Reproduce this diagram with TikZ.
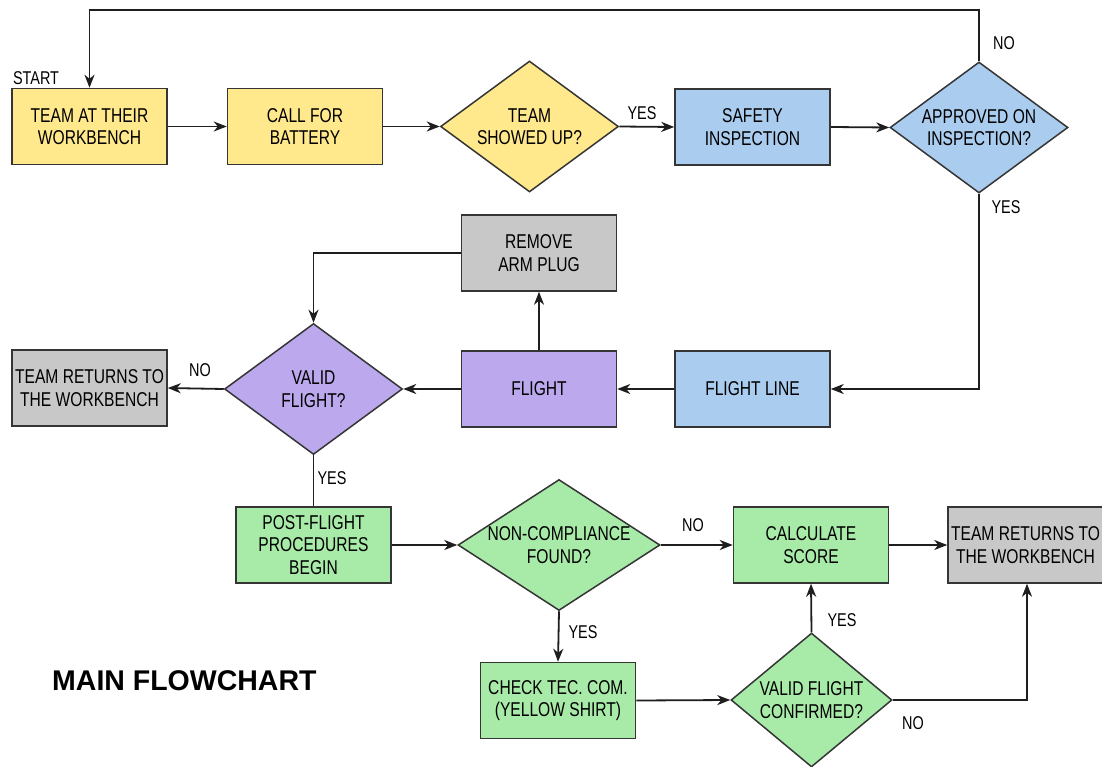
\documentclass[tikz,border=0pt]{standalone}
\usepackage{fontspec}
\setmainfont[FakeStretch=0.78]{Liberation Sans}
\newfontfamily\titlefont{Liberation Sans}
\usetikzlibrary{shapes.geometric,arrows.meta,calc}
\definecolor{cyel}{RGB}{255,233,140}
\definecolor{cblu}{RGB}{170,204,239}
\definecolor{cpur}{RGB}{188,168,236}
\definecolor{cgry}{RGB}{200,200,200}
\definecolor{cgrn}{RGB}{168,235,168}
\definecolor{cline}{RGB}{30,30,30}
\begin{document}
\begin{tikzpicture}[x=1pt,y=-1pt,
  box/.style={draw=cline!90, line width=1.5pt, minimum width=155pt, minimum height=76pt, inner sep=0pt, align=center, font=\fontsize{20}{22.5}\selectfont},
  dia/.style={draw=cline!90, line width=1.5pt, diamond, inner sep=0pt, minimum width=178pt, minimum height=131pt},
  dtxt/.style={align=center, inner sep=0pt, font=\fontsize{20}{22.5}\selectfont},
  lbl/.style={inner sep=0pt, font=\fontsize{18.5}{20}\selectfont},
  arr/.style={draw=cline, line width=1.8pt, -{Stealth[length=13pt,width=10pt,inset=4pt]}},
  ln/.style={draw=cline, line width=1.8pt}
]
\useasboundingbox (0,0) rectangle (1102,767);
\fill[white] (0,0) rectangle (1102,767);

% row 1
\node[box, fill=cyel] (b1) at (89.5,126.5) {TEAM AT THEIR\\WORKBENCH};
\node[box, fill=cyel] (b2) at (305,126.5) {CALL FOR\\BATTERY};
\node[dia, fill=cyel] (d1) at (529.5,126.5) {};
\node[dtxt] (d1t) at (d1) {TEAM\\SHOWED UP?};
\node[box, fill=cblu] (si) at (752.5,127) {SAFETY\\INSPECTION};
\node[dia, fill=cblu] (d2) at (979,127.5) {};
\node[dtxt] (d2t) at (d2) {APPROVED ON\\INSPECTION?};

% row 2
\node[box, fill=cgry] (rm) at (539,253) {REMOVE\\ARM PLUG};
\node[box, fill=cblu] (fl) at (752.5,389) {FLIGHT LINE};
\node[box, fill=cpur] (fg) at (539,389) {FLIGHT};
\node[dia, fill=cpur] (d3) at (313.5,389) {};
\node[dtxt] (d3t) at (d3) {VALID\\FLIGHT?};
\node[box, fill=cgry] (tr1) at (89.5,388) {TEAM RETURNS TO\\THE WORKBENCH};

% row 3
\node[box, fill=cgrn] (pf) at (313.5,545) {POST-FLIGHT\\PROCEDURES\\BEGIN};
\node[dia, fill=cgrn, minimum width=202pt] (d4) at (559,545) {};
\node[dtxt] (d4t) at (d4) {NON-COMPLIANCE\\FOUND?};
\node[box, fill=cgrn] (cs) at (811,545) {CALCULATE\\SCORE};
\node[box, fill=cgry] (tr2) at (1025.5,545) {TEAM RETURNS TO\\THE WORKBENCH};

% row 4
\node[box, fill=cgrn] (ck) at (558,700.5) {CHECK TEC. COM.\\(YELLOW SHIRT)};
\node[dia, fill=cgrn, minimum width=161pt, minimum height=134pt] (d5) at (811.5,700) {};
\node[dtxt] (d5t) at (d5) {VALID FLIGHT\\CONFIRMED?};

% title
\node[inner sep=0pt, anchor=west, font=\titlefont\bfseries\fontsize{28.5}{30}\selectfont] (title) at (52,681) {MAIN FLOWCHART};

% labels
\node[lbl] (lstart) at (36,78) {START};
\node[lbl] (l1) at (642,113) {YES};
\node[lbl] (l2) at (1004,43) {NO};
\node[lbl] (l3) at (1006,207) {YES};
\node[lbl] (l4) at (200,370) {NO};
\node[lbl] (l5) at (332,478) {YES};
\node[lbl] (l6) at (693,525) {NO};
\node[lbl] (l7) at (583,632) {YES};
\node[lbl] (l8) at (842,620) {YES};
\node[lbl] (l9) at (913,723) {NO};

% connectors
\coordinate (topy) at (0,10);
\draw[arr] (b1.east) -- (b2.west);
\draw[arr] (b2.east) -- (d1.west);
\draw[arr] (d1.east) -- (si.west);
\draw[arr] (si.east) -- (d2.west);
\draw[arr] (d2.north) |- (topy -| b1.north) -- (b1.north);
\draw[arr] (d2.south) |- (fl.east);
\draw[arr] (fl.west) -- (fg.east);
\draw[arr] (fg.north) -- (rm.south);
\draw[arr] (rm.west) -| (d3.north);
\draw[arr] (fg.west) -- (d3.east);
\draw[arr] (d3.west) -- (tr1.east);
\draw[ln] (d3.south) -- (pf.north);
\draw[arr] (pf.east) -- (d4.west);
\draw[arr] (d4.east) -- (cs.west);
\draw[arr] (cs.east) -- (tr2.west);
\draw[arr] (d4.south) -- (ck.north);
\draw[arr] (ck.east) -- (d5.west);
\draw[arr] (d5.north) -- (cs.south);
\draw[arr] (d5.east) -| ($(tr2.south)+(1.5,0)$);
\end{tikzpicture}
\end{document}
